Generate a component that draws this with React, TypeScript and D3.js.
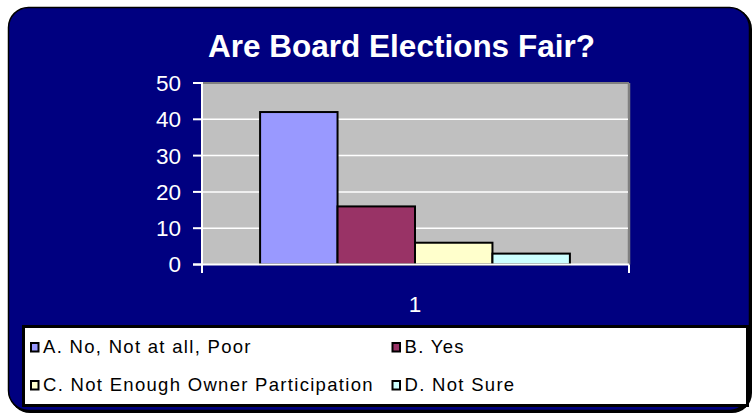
import React from "react";
import * as d3 from "d3";

const categories = ["1"];
const seriesNames = [
  "A. No, Not at all, Poor",
  "B. Yes",
  "C. Not Enough Owner Participation",
  "D. Not Sure",
];
const seriesValues = [42, 16, 6, 3];
const seriesColors = ["#9999FF", "#993366", "#FFFFCC", "#CCFFFF"];
const yTicks = [0, 10, 20, 30, 40, 50];
const title = "Are Board Elections Fair?";

const W = 755;
const H = 415;
const FONT = "'Liberation Sans', Arial, Helvetica, sans-serif";

export default function App() {
  const left = 202;
  const right = 628;
  const top = 83;
  const bottom = 264.5;

  const y = d3.scaleLinear().domain([0, 50]).range([bottom, top]);
  const x0 = d3
    .scaleBand<string>()
    .domain(categories)
    .range([left, right])
    .paddingInner(0)
    .paddingOuter(0.1875);
  const x1 = d3
    .scaleBand<string>()
    .domain(seriesNames)
    .range([0, x0.bandwidth()])
    .padding(0);

  const legendCols = [31, 392.5];
  const legendRows = [353, 391];

  return (
    <svg
      width={W}
      height={H}
      style={{ position: "absolute", left: 0, top: 0, background: "#fff" }}
      fontFamily={FONT}
    >
      {/* outer panel shadow + panel */}
      <rect x={10} y={9} width={742} height={404} rx={20} ry={20} fill="#000" />
      <rect
        x={8.5}
        y={7.5}
        width={741}
        height={403}
        rx={20}
        ry={20}
        fill="#000080"
        stroke="#000"
        strokeWidth={1.5}
      />

      {/* title */}
      <text
        x={401.5}
        y={57}
        textAnchor="middle"
        fill="#fff"
        fontWeight="bold"
        fontSize={31.5}
      >
        {title}
      </text>

      {/* plot area */}
      <rect x={left} y={top} width={right - left} height={bottom - top} fill="#C0C0C0" />
      <line x1={left} x2={right + 1} y1={top} y2={top} stroke="#808080" strokeWidth={2} />
      <line x1={right + 1} x2={right + 1} y1={top} y2={bottom} stroke="#808080" strokeWidth={2.5} />

      {/* gridlines */}
      {yTicks
        .filter((t) => t !== 0 && t !== 50)
        .map((t) => (
          <line
            key={"g" + t}
            x1={left}
            x2={right}
            y1={y(t)}
            y2={y(t)}
            stroke="#fff"
            strokeWidth={1.5}
          />
        ))}

      {/* bars */}
      {categories.map((c) =>
        seriesNames.map((s, i) => {
          const bx = (x0(c) ?? 0) + (x1(s) ?? 0);
          return (
            <rect
              key={c + s}
              x={bx}
              y={y(seriesValues[i])}
              width={x1.bandwidth()}
              height={bottom - y(seriesValues[i])}
              fill={seriesColors[i]}
              stroke="#000"
              strokeWidth={2}
            />
          );
        })
      )}

      {/* axes */}
      <line x1={left} x2={left} y1={top - 1} y2={273} stroke="#fff" strokeWidth={2} />
      <line x1={193} x2={right + 1} y1={bottom} y2={bottom} stroke="#fff" strokeWidth={2} />
      <line x1={right + 1} x2={right + 1} y1={bottom} y2={273} stroke="#fff" strokeWidth={2} />
      {yTicks.map((t) => (
        <g key={"t" + t}>
          <line x1={193} x2={left} y1={y(t)} y2={y(t)} stroke="#fff" strokeWidth={2} />
          <text
            x={181}
            y={y(t) + 2}
            textAnchor="end"
            dominantBaseline="middle"
            fill="#fff"
            fontSize={22.5}
          >
            {t}
          </text>
        </g>
      ))}
      {categories.map((c) => (
        <text
          key={"x" + c}
          x={(x0(c) ?? 0) + x0.bandwidth() / 2}
          y={312}
          textAnchor="middle"
          fill="#fff"
          fontSize={22.5}
        >
          {c}
        </text>
      ))}

      {/* legend */}
      <rect x={23.5} y={326.5} width={724} height={79} fill="#fff" stroke="#000" strokeWidth={3} />
      {seriesNames.map((s, i) => {
        const lx = legendCols[i % 2];
        const ly = legendRows[Math.floor(i / 2)];
        return (
          <g key={"l" + s}>
            <rect
              x={lx}
              y={ly - 10}
              width={7.5}
              height={8.5}
              fill={seriesColors[i]}
              stroke="#000"
              strokeWidth={2}
            />
            <text x={lx + 12} y={ly} fontSize={18.5} letterSpacing={1.3} fill="#000">
              {s}
            </text>
          </g>
        );
      })}
    </svg>
  );
}
